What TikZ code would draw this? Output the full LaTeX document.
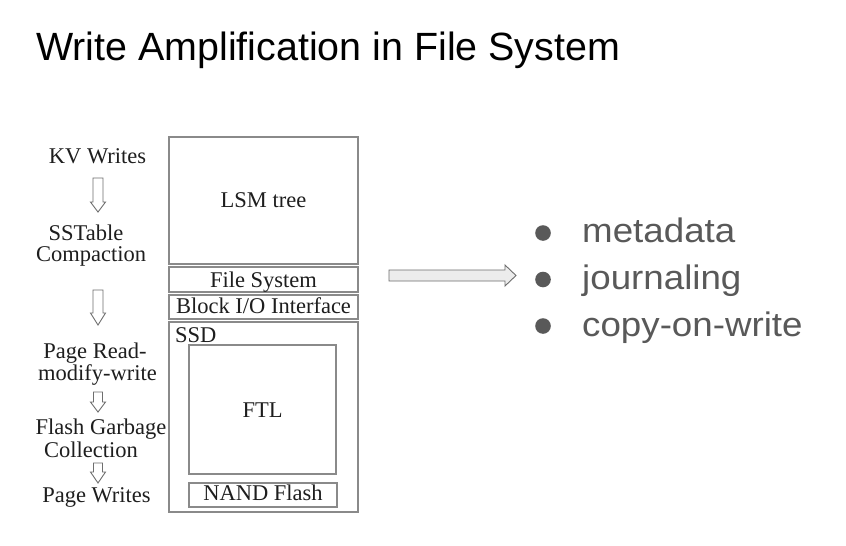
\documentclass[tikz,border=0pt]{standalone}
\usepackage{fontspec}
\setmainfont{Liberation Serif}
\newfontfamily\titlefont{Liberation Sans}
\newfontfamily\bulletfont[FakeStretch=1.08]{Liberation Sans}
\definecolor{boxgray}{HTML}{8A8A8A}
\definecolor{txtdark}{HTML}{1E1E1E}
\definecolor{arrowgray}{HTML}{6E6E6E}
\definecolor{bulgray}{HTML}{595959}
\definecolor{lightfill}{HTML}{ECECEC}
\newcommand{\dnblock}[6]{%
  \draw[blockarrow] ({#1-#5},#2) -- ({#1+#5},#2) -- ({#1+#5},#3) -- ({#1+#6},#3)
    -- (#1,#4) -- ({#1-#6},#3) -- ({#1-#5},#3) -- cycle;}
\begin{document}
\begin{tikzpicture}[x=1pt,y=-1pt,
  box/.style={draw=boxgray,line width=1.1pt,inner sep=0pt},
  lbl/.style={font=\fontsize{22.5}{22}\selectfont,text=txtdark,inner sep=0pt,anchor=base},
  lefttxt/.style={lbl,align=center},
  blockarrow/.style={draw=arrowgray,line width=0.9pt,fill=white,line join=miter},
  bul/.style={font=\bulletfont\fontsize{34}{34}\selectfont,text=bulgray,inner sep=0pt,anchor=base west}]
\useasboundingbox (0,0) rectangle (846,546);
\fill[white] (0,0) rectangle (846,546);
% title
\node[font=\titlefont\fontsize{39.4}{39.4}\selectfont,anchor=base west,inner sep=0pt] (title) at (36,60) {Write Amplification in File System};
% stack boxes
\node[box,minimum width=189pt,minimum height=127pt] (lsm) at (263.5,200.5) {};
\node[box,minimum width=189pt,minimum height=25pt] (fs) at (263.5,279.5) {};
\node[box,minimum width=189pt,minimum height=24pt] (bio) at (263.5,307) {};
\node[box,minimum width=189pt,minimum height=190pt] (ssd) at (263.5,417) {};
\node[box,minimum width=147pt,minimum height=129pt] (ftl) at (262.5,409.5) {};
\node[box,minimum width=148pt,minimum height=24pt] (nand) at (263,495) {};
% box labels
\node[lbl] (lsmt) at (263.5,207) {LSM tree};
\node[lbl] (fst) at (263.5,287) {File System};
\node[lbl] (biot) at (263.5,313) {Block I/O Interface};
\node[lbl,anchor=base west] (ssdt) at (175,342) {SSD};
\node[lbl] (ftlt) at (262.5,417) {FTL};
\node[lbl] (nandt) at (263,500) {NAND Flash};
% left column
\node[lefttxt] (kv) at (97.5,163) {KV Writes};
\node[lefttxt] (sst) at (91,261) {SSTable\hspace*{10pt}\\[-1pt]Compaction};
\node[lefttxt] (prmw) at (97.5,380) {Page Read-\hspace*{5pt}\\modify-write};
\node[lefttxt] (fgc) at (101,457) {Flash Garbage\\[1pt]Collection\hspace*{20pt}};
\node[lefttxt] (pw) at (96.5,502) {Page Writes};
% down block arrows
\dnblock{98}{178}{202}{212}{5}{7.5}
\dnblock{98}{290}{313}{325}{5}{7.5}
\dnblock{98}{392}{402}{412}{4.5}{7.5}
\dnblock{98}{463}{472}{483}{4.5}{7.5}
% right block arrow
\draw[blockarrow,fill=lightfill] (389,270) -- (505,270) -- (505,265) -- (516,275.5)
  -- (505,286) -- (505,281) -- (389,281) -- cycle;
% bullets
\fill[bulgray] (543,233) circle (7.8);
\fill[bulgray] (543,279.5) circle (7.8);
\fill[bulgray] (543,326) circle (7.8);
\node[bul] (b1) at (582,242) {metadata};
\node[bul] (b2) at (582,289) {journaling};
\node[bul] (b3) at (582,336) {copy-on-write};
\end{tikzpicture}
\end{document}
